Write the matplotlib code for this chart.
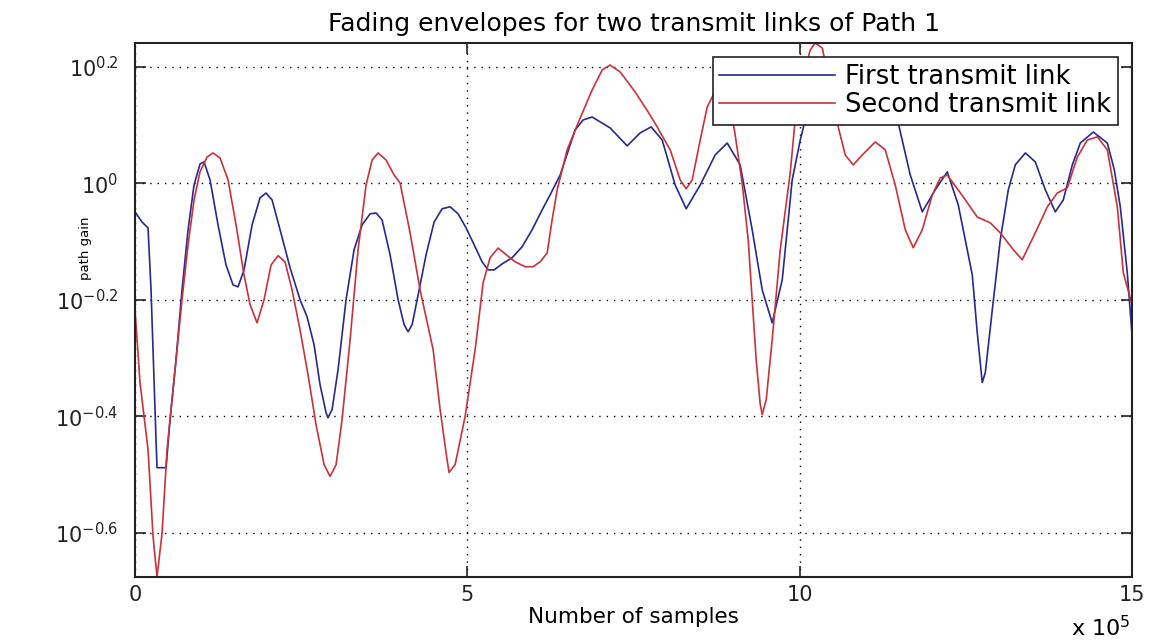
import matplotlib
matplotlib.use("Agg")
import matplotlib.pyplot as plt
from matplotlib.ticker import FixedLocator, FixedFormatter, NullLocator

# sample index in units of 1e5 samples, path gain (linear)
first_x = [0.000, 0.105, 0.196, 0.241, 0.286, 0.316, 0.331, 0.467, 0.527, 0.617,
           0.707, 0.798, 0.888, 0.978, 1.038, 1.129, 1.249, 1.369, 1.475, 1.550,
           1.640, 1.761, 1.881, 1.971, 2.062, 2.182, 2.333, 2.483, 2.588, 2.694,
           2.784, 2.874, 2.904, 2.965, 3.055, 3.175, 3.296, 3.416, 3.537, 3.627,
           3.717, 3.837, 3.958, 4.048, 4.108, 4.169, 4.259, 4.379, 4.500, 4.620,
           4.740, 4.861, 4.981, 5.102, 5.222, 5.312, 5.403, 5.523, 5.674, 5.824,
           5.974, 6.125, 6.245, 6.396, 6.621, 6.742, 6.877, 7.148, 7.404, 7.600,
           7.765, 7.931, 8.126, 8.292, 8.503, 8.728, 8.909, 9.104, 9.285, 9.436,
           9.586, 9.737, 9.887, 10.008, 10.158, 10.384, 10.760, 11.136, 11.362, 11.482,
           11.663, 11.844, 12.039, 12.220, 12.385, 12.491, 12.596, 12.671, 12.746, 12.792,
           12.897, 13.017, 13.138, 13.243, 13.394, 13.544, 13.695, 13.845, 13.965, 14.101,
           14.221, 14.417, 14.628, 14.733, 14.823, 14.928, 15.000]
first_gain = [0.893, 0.858, 0.838, 0.656, 0.460, 0.363, 0.325, 0.325, 0.393, 0.498,
              0.656, 0.832, 0.993, 1.079, 1.088, 1.013, 0.848, 0.724, 0.669, 0.664,
              0.710, 0.848, 0.944, 0.962, 0.936, 0.832, 0.716, 0.631, 0.590, 0.528,
              0.451, 0.404, 0.396, 0.409, 0.479, 0.631, 0.769, 0.848, 0.886, 0.889,
              0.865, 0.754, 0.631, 0.572, 0.556, 0.572, 0.643, 0.754, 0.858, 0.904,
              0.911, 0.886, 0.838, 0.784, 0.733, 0.710, 0.710, 0.727, 0.745, 0.778,
              0.832, 0.900, 0.955, 1.033, 1.234, 1.284, 1.299, 1.244, 1.159, 1.220,
              1.249, 1.186, 0.993, 0.904, 0.993, 1.118, 1.172, 1.075, 0.832, 0.656,
              0.576, 0.683, 1.013, 1.186, 1.389, 1.534, 1.577, 1.503, 1.389, 1.269,
              1.033, 0.893, 0.974, 1.046, 0.918, 0.799, 0.696, 0.554, 0.455, 0.473,
              0.606, 0.799, 0.974, 1.075, 1.127, 1.088, 0.974, 0.893, 0.936, 1.075,
              1.172, 1.224, 1.172, 1.054, 0.911, 0.702, 0.549]

second_x = [0.000, 0.075, 0.196, 0.271, 0.331, 0.407, 0.482, 0.557, 0.632, 0.707,
            0.798, 0.888, 0.978, 1.084, 1.174, 1.279, 1.400, 1.520, 1.640, 1.731,
            1.836, 1.941, 2.047, 2.152, 2.257, 2.363, 2.483, 2.603, 2.724, 2.844,
            2.935, 3.025, 3.115, 3.236, 3.356, 3.476, 3.567, 3.657, 3.777, 3.898,
            3.988, 4.138, 4.289, 4.485, 4.590, 4.695, 4.725, 4.816, 4.966, 5.117,
            5.237, 5.342, 5.463, 5.583, 5.719, 5.869, 5.989, 6.095, 6.200, 6.275,
            6.351, 6.501, 6.697, 6.877, 7.028, 7.148, 7.299, 7.524, 7.720, 7.856,
            8.051, 8.202, 8.292, 8.382, 8.503, 8.608, 8.713, 8.833, 8.954, 9.029,
            9.134, 9.225, 9.285, 9.345, 9.406, 9.436, 9.496, 9.586, 9.707, 9.857,
            9.932, 10.038, 10.158, 10.233, 10.339, 10.459, 10.564, 10.685, 10.805, 10.941,
            11.136, 11.287, 11.437, 11.588, 11.708, 11.844, 11.994, 12.114, 12.220, 12.461,
            12.671, 12.867, 13.017, 13.213, 13.348, 13.544, 13.725, 13.875, 14.026, 14.176,
            14.327, 14.477, 14.628, 14.778, 14.868, 15.000]
second_gain = [0.606, 0.455, 0.349, 0.248, 0.211, 0.251, 0.349, 0.425, 0.518, 0.631,
               0.784, 0.936, 1.046, 1.109, 1.127, 1.105, 1.013, 0.848, 0.696, 0.619,
               0.576, 0.631, 0.724, 0.751, 0.733, 0.656, 0.560, 0.469, 0.385, 0.329,
               0.314, 0.329, 0.393, 0.539, 0.769, 0.993, 1.096, 1.127, 1.096, 1.033,
               1.001, 0.822, 0.656, 0.518, 0.409, 0.335, 0.319, 0.329, 0.398, 0.518,
               0.675, 0.745, 0.774, 0.754, 0.733, 0.719, 0.719, 0.733, 0.759, 0.865,
               0.974, 1.141, 1.294, 1.445, 1.564, 1.595, 1.552, 1.434, 1.325, 1.249,
               1.141, 1.013, 0.978, 1.013, 1.186, 1.351, 1.428, 1.434, 1.362, 1.210,
               1.001, 0.799, 0.631, 0.498, 0.417, 0.401, 0.425, 0.539, 0.769, 1.042,
               1.284, 1.503, 1.692, 1.740, 1.706, 1.474, 1.269, 1.118, 1.075, 1.118,
               1.177, 1.141, 0.993, 0.832, 0.775, 0.832, 0.955, 1.021, 1.033, 0.947,
               0.875, 0.855, 0.822, 0.769, 0.739, 0.822, 0.911, 0.962, 0.982, 1.109,
               1.186, 1.201, 1.141, 0.911, 0.702, 0.619]

y_ticks = [10 ** -0.6, 10 ** -0.4, 10 ** -0.2, 1.0, 10 ** 0.2]
y_labels = ["$10^{-0.6}$", "$10^{-0.4}$", "$10^{-0.2}$", "$10^{0}$", "$10^{0.2}$"]
x_ticks = [0, 5, 10, 15]

plt.rcParams["font.family"] = "DejaVu Sans"
plt.rcParams["mathtext.default"] = "regular"

fig = plt.figure(figsize=(11.52, 6.43), dpi=100)
ax = fig.add_axes([0.1172, 0.1026, 0.8655, 0.8305])

ax.plot(first_x, first_gain, color="#28288f", lw=1.2, label="First transmit link")
ax.plot(second_x, second_gain, color="#c8323a", lw=1.2, label="Second transmit link")

ax.set_yscale("log")
ax.set_xlim(0, 15)
ax.set_ylim(min(second_gain), max(second_gain))
ax.yaxis.set_major_locator(FixedLocator(y_ticks))
ax.yaxis.set_major_formatter(FixedFormatter(y_labels))
ax.yaxis.set_minor_locator(NullLocator())
ax.set_xticks(x_ticks)
ax.set_xticklabels([str(t) for t in x_ticks])

ax.grid(True, color="black", linestyle=(0, (1, 4.3)), lw=1.0)
ax.tick_params(direction="in", length=8, width=1.2, top=True, right=True,
               labelsize=15, colors="#222222")
ax.tick_params(axis="y", pad=12)
ax.tick_params(axis="x", pad=6)
for s in ax.spines.values():
    s.set_linewidth(1.5)
    s.set_color("#222222")

ax.set_title("Fading envelopes for two transmit links of Path 1", fontsize=18, pad=9)
ax.set_xlabel("Number of samples", fontsize=15.5, labelpad=1)
ax.set_ylabel("path gain", fontsize=9.5)
ax.yaxis.set_label_coords(-0.043, 0.615)
fig.text(0.981, 0.004, "x $10^{5}$", ha="right", va="bottom", fontsize=16)

leg = ax.legend(loc="upper right", fontsize=18.5, frameon=True, fancybox=False,
                edgecolor="#222222", framealpha=1.0, handlelength=4.5,
                borderaxespad=0.55, borderpad=0.25, labelspacing=0.1, handletextpad=0.4)
leg.get_frame().set_linewidth(1.2)

fig.savefig("out.png", dpi=100, facecolor="white")
